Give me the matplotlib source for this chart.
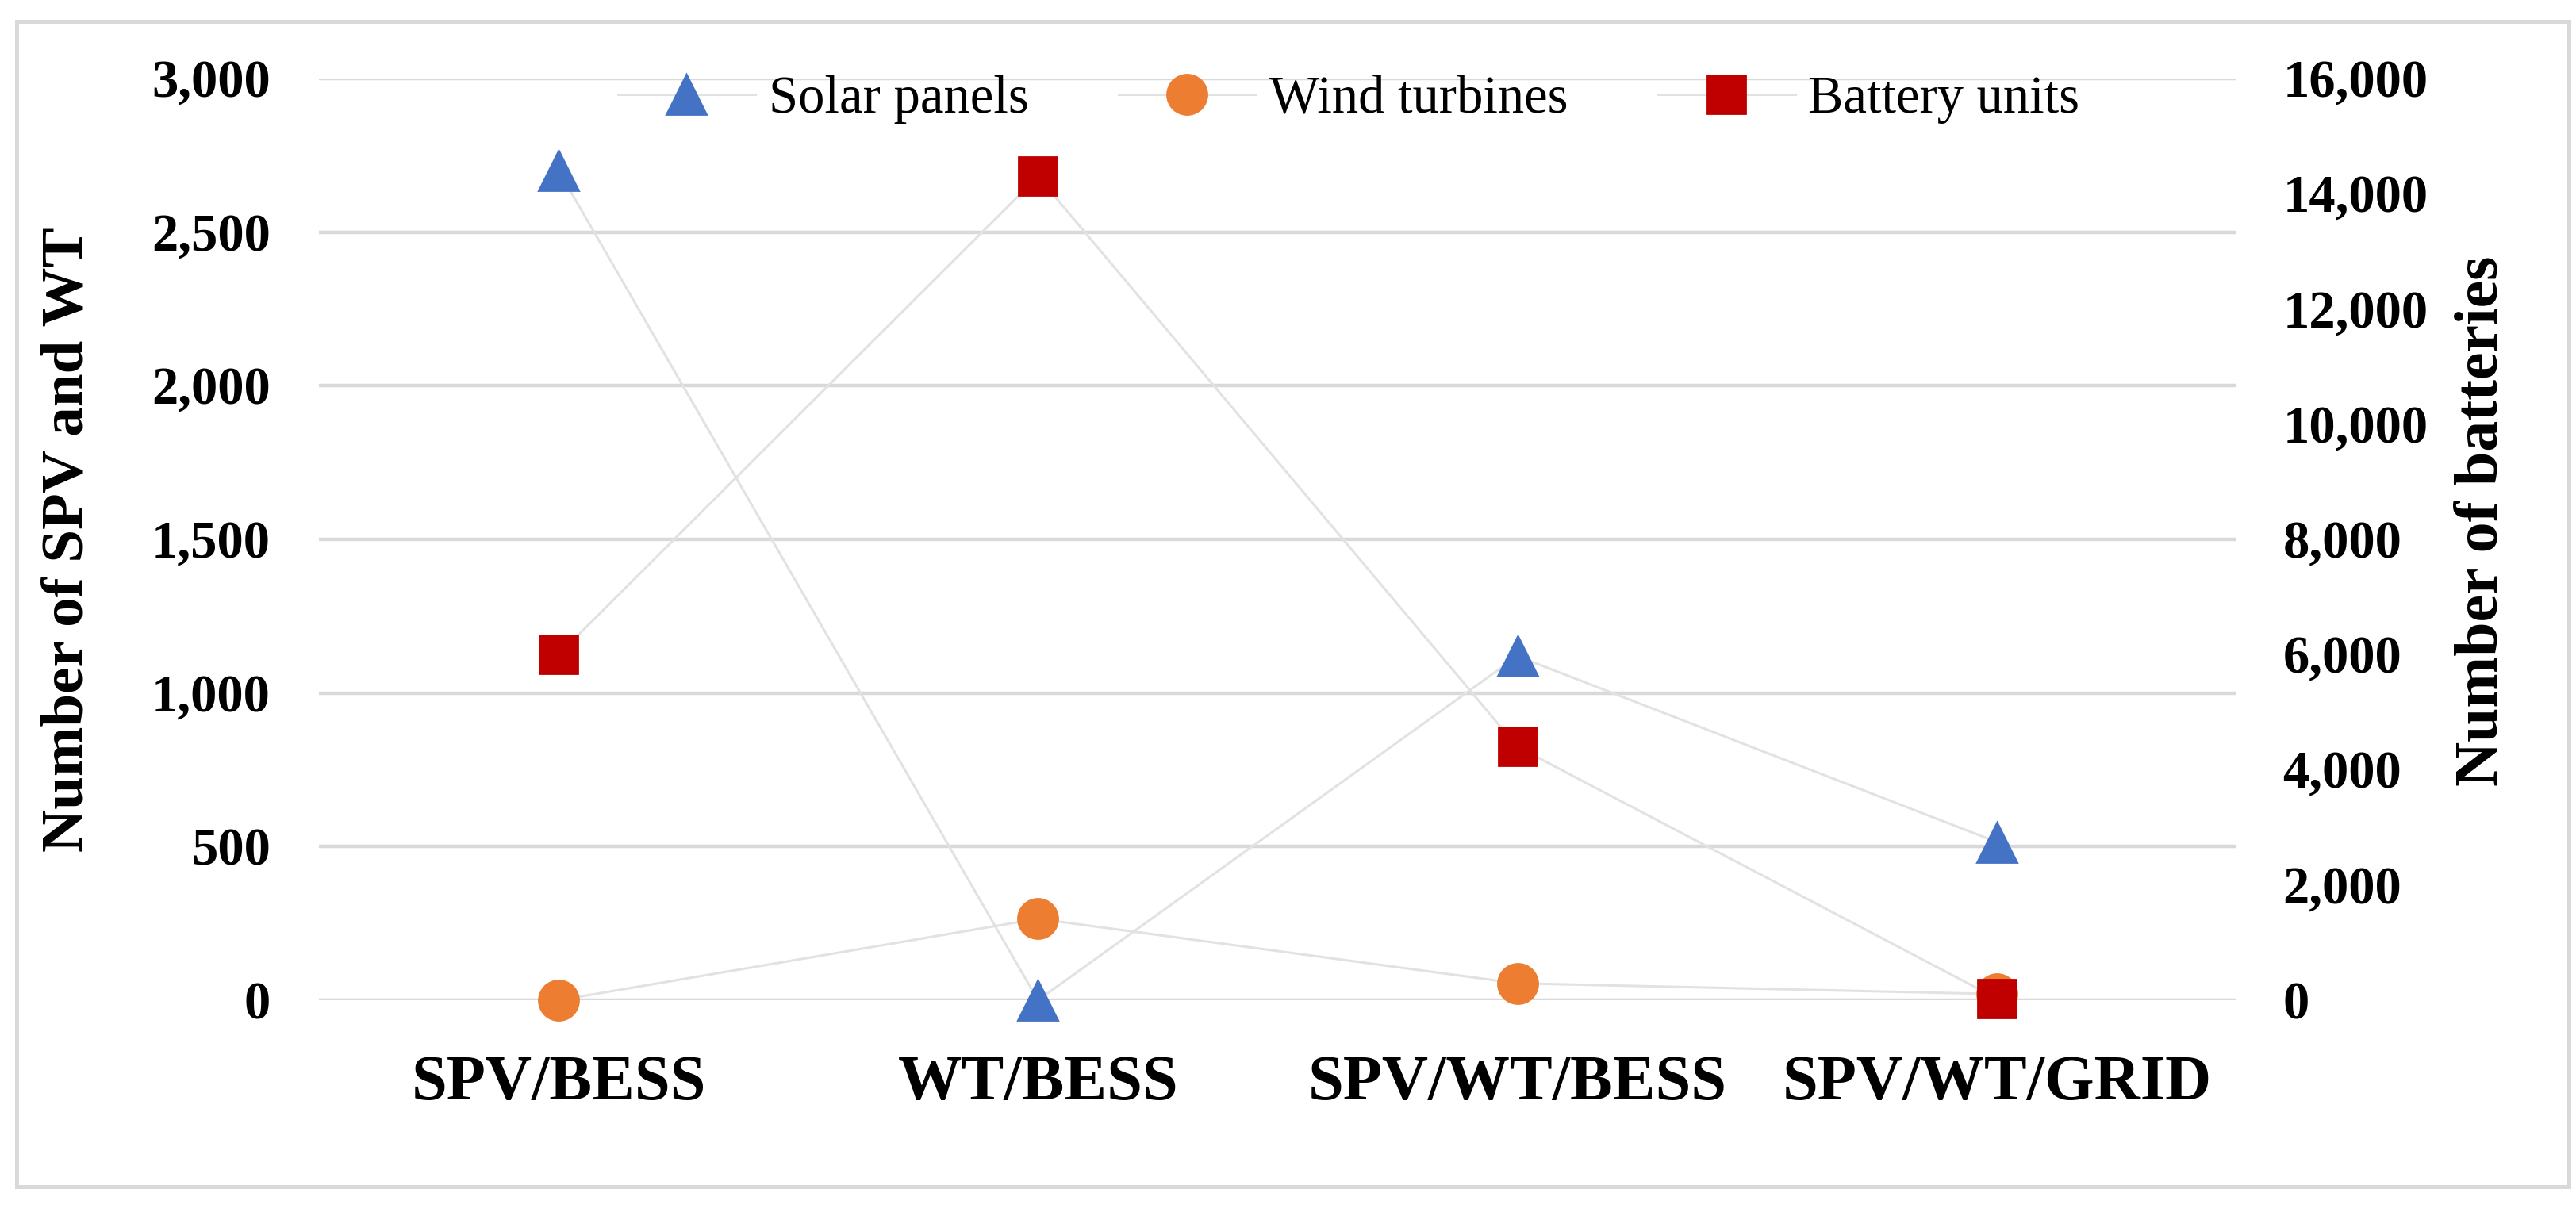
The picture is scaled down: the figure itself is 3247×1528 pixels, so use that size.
import matplotlib
matplotlib.use("Agg")
import matplotlib.pyplot as plt
from matplotlib.patches import Rectangle
from matplotlib.ticker import FuncFormatter, MultipleLocator

# data
systems = ["SPV/BESS", "WT/BESS", "SPV/WT/BESS", "SPV/WT/GRID"]
solar_panels = [2700, 0, 1120, 515]
wind_turbines = [0, 265, 55, 20]
battery_units = [6000, 14300, 4400, 30]

plt.rcParams['font.family'] = ['Liberation Serif', 'DejaVu Serif']

W, H = 3248, 1528
fig = plt.figure(figsize=(W / 200, H / 200), dpi=200)
ax = fig.add_axes([402 / W, 1 - 1261 / H, (2819 - 402) / W, (1261 - 99) / H])
ax2 = ax.twinx()

x = list(range(len(systems)))
line_c = "#e2e2e2"
l1, = ax.plot(x, solar_panels, '-', color=line_c, lw=1.1, marker='^', ms=18,
              mfc="#4472C4", mec="#4472C4", label="Solar panels", zorder=3, clip_on=False)
l2, = ax.plot(x, wind_turbines, '-', color=line_c, lw=1.1, marker='o', ms=18,
              mfc="#ED7D31", mec="#ED7D31", label="Wind turbines", zorder=3, clip_on=False)
l3, = ax2.plot(x, battery_units, '-', color=line_c, lw=1.1, marker='s', ms=17,
               mfc="#C00000", mec="#C00000", label="Battery units", zorder=3, clip_on=False)

ax.set_xlim(-0.5, len(systems) - 0.5)
ax.set_ylim(0, 3000)
ax2.set_ylim(0, 16000)
ax.yaxis.set_major_locator(MultipleLocator(500))
ax2.yaxis.set_major_locator(MultipleLocator(2000))
fmt = FuncFormatter(lambda v, p: f"{v:,.0f}")
ax.yaxis.set_major_formatter(fmt)
ax2.yaxis.set_major_formatter(fmt)

ax.set_xticks(x)
ax.set_xticklabels(systems, fontsize=29, fontweight='bold')
ax.tick_params(axis='x', length=0, pad=25)
ax.tick_params(axis='y', length=0, pad=22, labelsize=24)
ax2.tick_params(axis='y', length=0, pad=21, labelsize=24)
for t in ax.get_yticklabels() + ax2.get_yticklabels():
    t.set_fontweight('bold')

ax.grid(axis='y', color='#d9d9d9', lw=1.6)
ax.set_axisbelow(True)
for s in ax.spines.values():
    s.set_visible(False)
for s in ax2.spines.values():
    s.set_visible(False)

ax.set_ylabel("Number of SPV and WT", fontsize=27, fontweight='bold')
ax.yaxis.set_label_coords(-0.1167, 0.5)
ax2.set_ylabel("Number of batteries", fontsize=28, fontweight='bold')
ax2.yaxis.set_label_coords(1.1134, 0.52)

fig.legend(handles=[l1, l2, l3], loc='center', bbox_to_anchor=(1700 / W, 1 - 126 / H),
           ncol=3, frameon=False, fontsize=24, handlelength=2.6,
           columnspacing=1.7, handletextpad=0.25)

fig.patches.append(Rectangle((21 / W, 1 - 1496 / H), (3238 - 21) / W, (1496 - 27) / H,
                             transform=fig.transFigure, fill=False,
                             edgecolor='#d9d9d9', lw=1.8))

fig.savefig("out.png", dpi=200, facecolor='white')
